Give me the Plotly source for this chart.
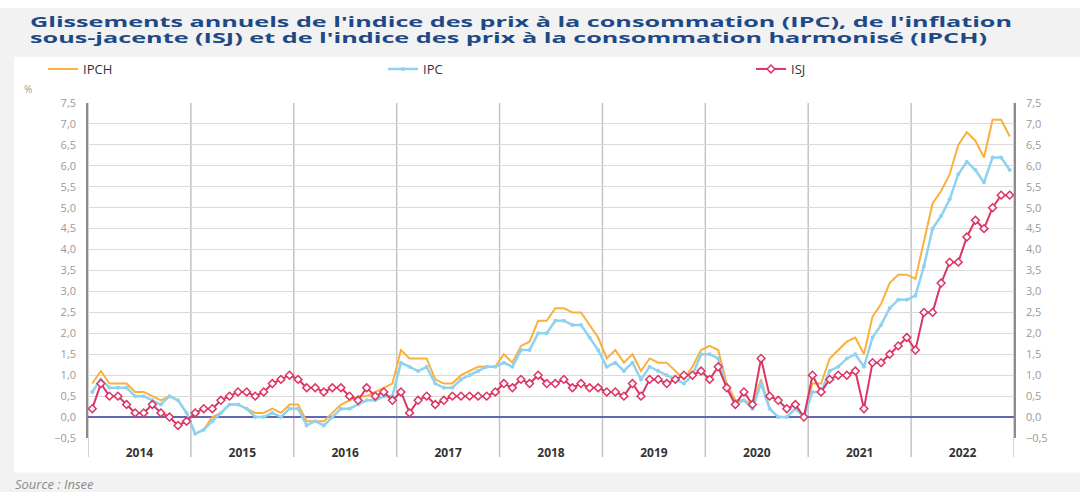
import plotly.graph_objects as go

# ---------------- data (annual growth, %) ----------------
years = ["2014", "2015", "2016", "2017", "2018", "2019", "2020", "2021", "2022"]

ipch = [
    0.8, 1.1, 0.8, 0.8, 0.8, 0.6, 0.6, 0.5, 0.4, 0.5, 0.4, 0.1,
    -0.4, -0.3, 0.0, 0.1, 0.3, 0.3, 0.2, 0.1, 0.1, 0.2, 0.1, 0.3,
    0.3, -0.1, -0.1, -0.1, 0.1, 0.3, 0.4, 0.5, 0.5, 0.6, 0.7, 0.8,
    1.6, 1.4, 1.4, 1.4, 0.9, 0.8, 0.8, 1.0, 1.1, 1.2, 1.2, 1.2,
    1.5, 1.3, 1.7, 1.8, 2.3, 2.3, 2.6, 2.6, 2.5, 2.5, 2.2, 1.9,
    1.4, 1.6, 1.3, 1.5, 1.1, 1.4, 1.3, 1.3, 1.1, 0.9, 1.2, 1.6,
    1.7, 1.6, 0.8, 0.4, 0.4, 0.3, 0.9, 0.2, 0.0, 0.0, 0.2, 0.0,
    0.8, 0.8, 1.4, 1.6, 1.8, 1.9, 1.5, 2.4, 2.7, 3.2, 3.4, 3.4,
    3.3, 4.2, 5.1, 5.4, 5.8, 6.5, 6.8, 6.6, 6.2, 7.1, 7.1, 6.7,
]

ipc = [
    0.6, 0.9, 0.7, 0.7, 0.7, 0.5, 0.5, 0.4, 0.3, 0.5, 0.4, 0.1,
    -0.4, -0.3, -0.1, 0.1, 0.3, 0.3, 0.2, 0.0, 0.0, 0.1, 0.0, 0.2,
    0.2, -0.2, -0.1, -0.2, 0.0, 0.2, 0.2, 0.3, 0.4, 0.4, 0.5, 0.5,
    1.3, 1.2, 1.1, 1.2, 0.8, 0.7, 0.7, 0.9, 1.0, 1.1, 1.2, 1.2,
    1.3, 1.2, 1.6, 1.6, 2.0, 2.0, 2.3, 2.3, 2.2, 2.2, 1.9, 1.6,
    1.2, 1.3, 1.1, 1.3, 0.9, 1.2, 1.1, 1.0, 0.9, 0.8, 1.0, 1.5,
    1.5, 1.4, 0.7, 0.3, 0.4, 0.2, 0.8, 0.2, 0.0, 0.0, 0.2, 0.0,
    0.6, 0.6, 1.1, 1.2, 1.4, 1.5, 1.2, 1.9, 2.2, 2.6, 2.8, 2.8,
    2.9, 3.6, 4.5, 4.8, 5.2, 5.8, 6.1, 5.9, 5.6, 6.2, 6.2, 5.9,
]

isj = [
    0.2, 0.8, 0.5, 0.5, 0.3, 0.1, 0.1, 0.3, 0.1, 0.0, -0.2, -0.1,
    0.1, 0.2, 0.2, 0.4, 0.5, 0.6, 0.6, 0.5, 0.6, 0.8, 0.9, 1.0,
    0.9, 0.7, 0.7, 0.6, 0.7, 0.7, 0.5, 0.4, 0.7, 0.5, 0.6, 0.4,
    0.6, 0.1, 0.4, 0.5, 0.3, 0.4, 0.5, 0.5, 0.5, 0.5, 0.5, 0.6,
    0.8, 0.7, 0.9, 0.8, 1.0, 0.8, 0.8, 0.9, 0.7, 0.8, 0.7, 0.7,
    0.6, 0.6, 0.5, 0.8, 0.5, 0.9, 0.9, 0.8, 0.9, 1.0, 1.0, 1.1,
    0.9, 1.2, 0.7, 0.3, 0.6, 0.3, 1.4, 0.5, 0.4, 0.2, 0.3, 0.0,
    1.0, 0.6, 0.9, 1.0, 1.0, 1.1, 0.2, 1.3, 1.3, 1.5, 1.7, 1.9,
    1.6, 2.5, 2.5, 3.2, 3.7, 3.7, 4.3, 4.7, 4.5, 5.0, 5.3, 5.3,
]

months = list(range(len(ipc)))  # month index, Jan 2014 = 0

title_lines = [
    "Glissements annuels de l'indice des prix à la consommation (IPC), de l'inflation",
    "sous-jacente (ISJ) et de l'indice des prix à la consommation harmonisé (IPCH)",
]

# ---------------- style ----------------
ORANGE = "#fbb03b"
BLUE = "#8fd2ef"
RED = "#dc3463"
FONT = "Open Sans"

W, H = 1080, 492
L, R, T, B = 88, 66, 103, 54
PW, PH = W - L - R, H - T - B


def px(xp):
    return (xp - L) / PW


def py(yp):
    return (H - B - yp) / PH


fig = go.Figure()
fig.add_trace(go.Scatter(
    x=months, y=ipch, name="IPCH", mode="lines",
    line=dict(color=ORANGE, width=2), legend="legend", hoverinfo="skip"))
fig.add_trace(go.Scatter(
    x=months, y=ipc, name="IPC", mode="lines+markers",
    line=dict(color=BLUE, width=2.5), marker=dict(size=4, color=BLUE),
    legend="legend2", hoverinfo="skip"))
fig.add_trace(go.Scatter(
    x=months, y=isj, name="ISJ", mode="lines+markers",
    line=dict(color=RED, width=2),
    marker=dict(symbol="diamond", size=6, color="white", line=dict(color=RED, width=1.5)),
    legend="legend3", hoverinfo="skip"))
# invisible trace to activate the right-hand axis
fig.add_trace(go.Scatter(x=[months[0]], y=[0], yaxis="y2", mode="markers",
                         marker=dict(opacity=0), showlegend=False, hoverinfo="skip"))

n = len(months)
shapes = [
    dict(type="rect", xref="paper", yref="paper", x0=px(14), x1=px(1085), y0=py(472.5), y1=py(57),
         fillcolor="white", line=dict(width=0), layer="below"),
    dict(type="rect", xref="paper", yref="paper", x0=px(-5), x1=px(1085), y0=py(8), y1=py(-5),
         fillcolor="white", line=dict(width=0), layer="below"),
]
for k in range(len(years) + 1):
    shapes.append(dict(type="line", xref="x", yref="paper", x0=-0.5 + 12 * k, x1=-0.5 + 12 * k,
                       y0=py(457), y1=1, line=dict(color="#c4c4c4", width=1.5), layer="between"))

tickfont_y = dict(family=FONT, size=11, color="#9a9a9a")
legfont = dict(family=FONT, size=13, color="#333333")


def leg(xpix):
    # legend box placed in paper coordinates (pixel -> fraction of plot area)
    return dict(orientation="h", xref="paper", yref="paper", x=px(xpix), y=py(69),
                xanchor="left", yanchor="middle", bgcolor="rgba(0,0,0,0)", font=legfont)


fig.update_layout(
    width=W, height=H,
    margin=dict(l=L, r=R, t=T, b=B, autoexpand=False),
    paper_bgcolor="#f2f2f2", plot_bgcolor="white",
    separators=", ",
    font=dict(family=FONT),
    shapes=shapes,
    xaxis=dict(range=[-0.5, n - 0.5], tickmode="array",
               tickvals=[5.5 + 12 * k for k in range(len(years))], ticktext=years,
               showgrid=False, zeroline=False, showline=False, ticks="",
               tickfont=dict(family=FONT, size=12, color="#333333", weight="bold"),
               ticklabelstandoff=6),
    yaxis=dict(range=[-0.5, 7.5], tickmode="linear", tick0=0, dtick=0.5, tickformat=".1f",
               showgrid=True, gridcolor="#dadada", gridwidth=1,
               zeroline=True, zerolinecolor="#6366b4", zerolinewidth=1.5,
               showline=True, linecolor="#8c8c8c", linewidth=1.5, ticks="",
               tickfont=tickfont_y, ticklabelstandoff=8),
    yaxis2=dict(range=[-0.5, 7.5], tickmode="linear", tick0=0, dtick=0.5, tickformat=".1f",
                overlaying="y", side="right", showgrid=False, zeroline=False,
                showline=True, linecolor="#8c8c8c", linewidth=1.5, ticks="",
                tickfont=tickfont_y, ticklabelstandoff=8),
    legend=leg(43), legend2=leg(383), legend3=leg(751),
    annotations=[
        dict(text=title_lines[0], xref="paper", yref="paper", x=px(28), y=py(20.5),
             xanchor="left", yanchor="middle", align="left", showarrow=False,
             font=dict(family=FONT, size=15, color="#1d4a86", weight="bold")),
        dict(text=title_lines[1], xref="paper", yref="paper", x=px(28), y=py(37),
             xanchor="left", yanchor="middle", align="left", showarrow=False,
             font=dict(family=FONT, size=15, color="#1d4a86", weight="bold")),
        dict(text="%", xref="paper", yref="paper", x=px(22), y=py(89), xanchor="left", yanchor="middle",
             showarrow=False, font=dict(family=FONT, size=10, color="#9a9a9a")),
        dict(text="<i>Source : Insee</i>", xref="paper", yref="paper", x=px(13), y=py(483.5),
             xanchor="left", yanchor="middle", showarrow=False,
             font=dict(family=FONT, size=13, color="#8a8a8a")),
    ],
)

# The reference renders its title glyphs horizontally wide: stretch the two
# title lines to the reference widths with SVG textLength (text stays real text).
post = """
document.body.style.margin='0';
document.querySelectorAll('text.annotation-text').forEach(function(t){
  var s = t.textContent || '';
  var w = null;
  if (s.indexOf('Glissements') === 0) w = 982;
  else if (s.indexOf('sous-jacente') === 0) w = 957;
  if (w) { t.setAttribute('textLength', w); t.setAttribute('lengthAdjust', 'spacingAndGlyphs'); }
});
"""

fig.write_html("out.html", config={"displayModeBar": False}, post_script=post)
